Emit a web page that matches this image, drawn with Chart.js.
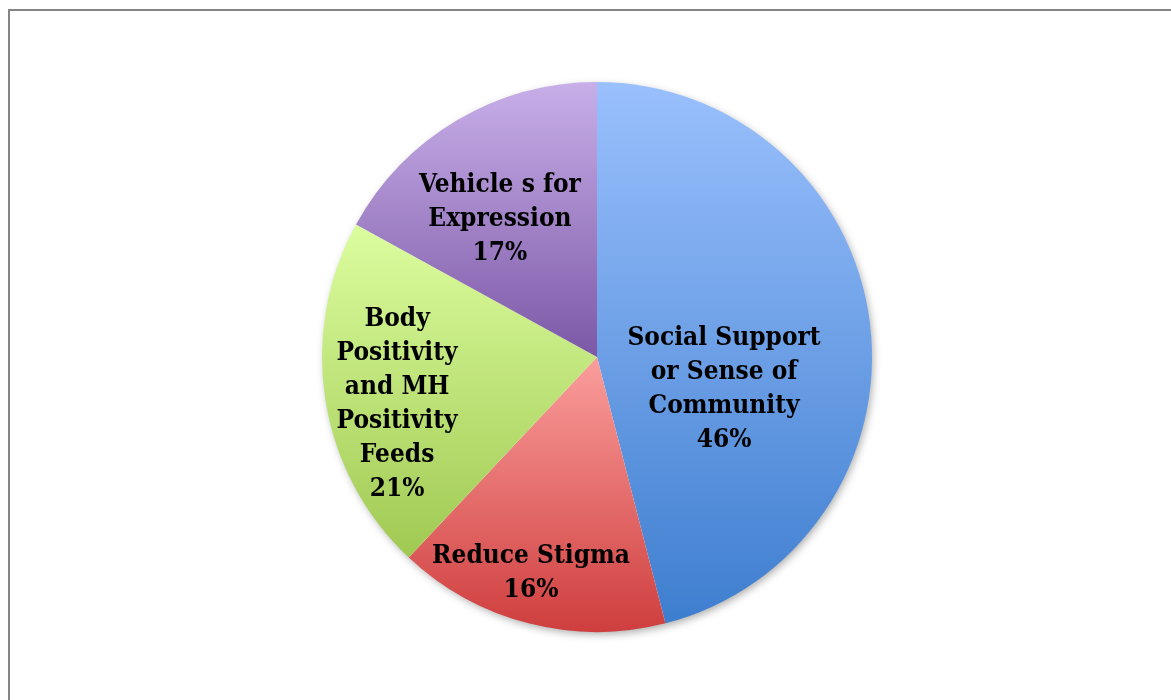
<!DOCTYPE html>
<html>
<head>
<meta charset="utf-8">
<script src="https://cdn.jsdelivr.net/npm/chart.js@4/dist/chart.umd.min.js"></script>
<style>
  html, body { margin: 0; padding: 0; background: #fff; overflow: hidden; }
  #frame {
    position: absolute; left: 8px; top: 9px; width: 1400px; height: 900px;
    border-left: 2px solid #858585; border-top: 2px solid #858585;
  }
  #wrap { position: absolute; left: 0; top: 0; width: 1171px; height: 700px; }
</style>
</head>
<body>
<div id="frame"></div>
<div id="wrap"><canvas id="pie"></canvas></div>
<script>
// Share of posts by purpose
const categories = [
  ['Social Support', 'or Sense of', 'Community'],
  ['Reduce Stigma'],
  ['Body', 'Positivity', 'and MH', 'Positivity', 'Feeds'],
  ['Vehicle s for', 'Expression'],
];
const shares = [46, 16, 21, 17];

// light (top) / dark (bottom) stops for each slice's vertical gradient
const topColors = ['#9ac0fd', '#fa9e9c', '#dcfd9f', '#c8afe9'];
const bottomColors = ['#3e7ecf', '#cf3e3e', '#a0c952', '#7c58a6'];

// label anchor relative to the pie centre, in units of the radius
const labelAnchors = [[0.462, 0.118], [-0.24, 0.785], [-0.727, 0.172], [-0.353, -0.50]];

const LABEL_FONT = 'bold 26px "DejaVu Serif Condensed", "DejaVu Serif", serif';
const LINE_H = 34;

// pie geometry from the chart area (same rule Chart.js uses for a single pie)
function pieGeometry(chart) {
  const a = chart.chartArea;
  return {
    x: (a.left + a.right) / 2,
    y: (a.top + a.bottom) / 2,
    r: Math.min(a.right - a.left, a.bottom - a.top) / 2,
  };
}

// y-extent of slice i, starting at 12 o'clock and running clockwise
function sliceYRange(chart, i) {
  const { x, y, r } = pieGeometry(chart);
  const total = shares.reduce((s, v) => s + v, 0);
  const before = shares.slice(0, i).reduce((s, v) => s + v, 0);
  const start = -Math.PI / 2 + (before / total) * Math.PI * 2;
  const end = start + (shares[i] / total) * Math.PI * 2;
  const ys = [y, y + Math.sin(start) * r, y + Math.sin(end) * r];
  for (let a = -Math.PI * 2.5; a <= Math.PI * 4; a += Math.PI / 2) {
    if (a > start && a < end) ys.push(y + Math.sin(a) * r);
  }
  return [Math.min(...ys), Math.max(...ys)];
}

function sliceGradient(context) {
  const chart = context.chart;
  if (!chart.chartArea) return topColors[context.dataIndex];
  const [y0, y1] = sliceYRange(chart, context.dataIndex);
  const g = chart.ctx.createLinearGradient(0, y0, 0, y1);
  g.addColorStop(0, topColors[context.dataIndex]);
  g.addColorStop(1, bottomColors[context.dataIndex]);
  return g;
}

const pieShadow = {
  id: 'pieShadow',
  beforeDatasetsDraw(chart) {
    const arc = chart.getDatasetMeta(0).data[0];
    if (!arc) return;
    const ctx = chart.ctx;
    ctx.save();
    ctx.shadowColor = 'rgba(0,0,0,0.35)';
    ctx.shadowBlur = 9;
    ctx.shadowOffsetX = 2;
    ctx.shadowOffsetY = 3;
    ctx.fillStyle = '#ffffff';
    ctx.beginPath();
    ctx.arc(arc.x, arc.y, arc.outerRadius - 1, 0, Math.PI * 2);
    ctx.fill();
    ctx.restore();
  },
};

const sliceLabels = {
  id: 'sliceLabels',
  afterDatasetsDraw(chart) {
    const ctx = chart.ctx;
    const meta = chart.getDatasetMeta(0);
    ctx.save();
    ctx.font = LABEL_FONT;
    ctx.fillStyle = '#000000';
    ctx.textAlign = 'center';
    ctx.textBaseline = 'middle';
    meta.data.forEach((arc, i) => {
      const lines = [...categories[i], shares[i] + '%'];
      const cx = arc.x + labelAnchors[i][0] * arc.outerRadius;
      const cy = arc.y + labelAnchors[i][1] * arc.outerRadius;
      const top = cy - (lines.length - 1) * LINE_H / 2;
      lines.forEach((t, k) => ctx.fillText(t, cx, top + k * LINE_H));
    });
    ctx.restore();
  },
};

new Chart(document.getElementById('pie'), {
  type: 'pie',
  data: {
    labels: categories.map((c) => c.join(' ')),
    datasets: [{
      data: shares,
      backgroundColor: sliceGradient,
      borderWidth: 0,
      hoverOffset: 0,
    }],
  },
  options: {
    responsive: true,
    maintainAspectRatio: false,
    animation: false,
    layout: { padding: { left: 322, right: 299, top: 82, bottom: 68 } },
    plugins: {
      legend: { display: false },
      tooltip: { enabled: false },
    },
  },
  plugins: [pieShadow, sliceLabels],
});
</script>
</body>
</html>
